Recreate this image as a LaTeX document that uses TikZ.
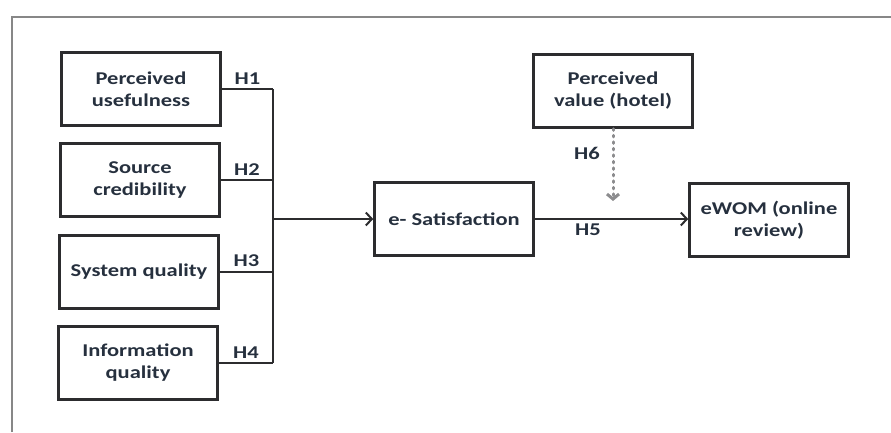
\documentclass[tikz,border=0pt]{standalone}
\usepackage{fontspec}
\setmainfont{Carlito}[FakeStretch=1.25]
\usetikzlibrary{arrows.meta,positioning}
\definecolor{fg}{RGB}{44,44,46}
\definecolor{txt}{RGB}{38,48,62}
\definecolor{mu}{RGB}{140,140,142}
\definecolor{frm}{RGB}{135,135,135}
\tikzset{
  every picture/.style={fg, line width=2pt, line join=miter,
    >={Straight Barb[length=6pt,width=13pt]}},
  every node/.style={font=\bfseries\fontsize{18}{22}\selectfont, text=txt},
  % Kästen
  factor/.style={draw=fg, line width=2.6pt, minimum width=159pt, minimum height=73pt,
    align=center, inner sep=2pt},
  % Verbindungen
  link/.style={fg, line width=2pt},
  dotlink/.style={mu, line width=3pt, dash pattern=on 1.5pt off 5pt, line cap=round},
  % Hypothesen
  hyp/.style={inner sep=1pt},
}

\begin{document}
\begin{tikzpicture}[x=1pt, y=-1pt]
  \useasboundingbox (0,0) rectangle (891,432);
  % Rahmen
  \draw[frm, line width=2pt] (12,432) -- (12,17) -- (891,17);
  % linke Spalte
  \node[factor] (pu) at (141,89)  {Perceived\\usefulness};
  \node[factor] (sc) at (140,180) {Source\\credibility};
  \node[factor] (sq) at (139,272) {System quality};
  \node[factor] (iq) at (138,363) {Information\\quality};
  % rechte Seite
  \node[factor] (esat) at (454,219)   {e- Satisfaction};
  \node[factor] (pv)   at (613,91)    {Perceived\\value (hotel)};
  \node[factor] (ewom) at (769,220)   {eWOM (online\\review)};
  % Sammelschiene
  \coordinate (bus) at (273,219);
  \draw[link] (pu.east) -- (pu.east -| bus) node[hyp, midway, above=3pt] {H1};
  \draw[link] (sc.east) -- (sc.east -| bus) node[hyp, midway, above=3pt] {H2};
  \draw[link] (sq.east) -- (sq.east -| bus) node[hyp, midway, above=3pt] {H3};
  \draw[link] (iq.east) -- (iq.east -| bus) node[hyp, midway, above=3pt] {H4};
  \draw[link] (pu.east -| bus) -- (iq.east -| bus);
  \draw[link, ->] (bus) -- (esat.west);
  % H5 und H6
  \draw[link, ->] (esat.east) -- (ewom.west |- esat.east);
  \node[hyp] (h5) at (588,230) {H5};
  \coordinate (h6end) at (pv.south |- 0,201);
  \draw[dotlink, ->, >={Straight Barb[length=5pt,width=12pt]}] (pv.south) -- (h6end);
  \node[hyp] (h6) at (587,153) {H6};
\end{tikzpicture}
\end{document}
